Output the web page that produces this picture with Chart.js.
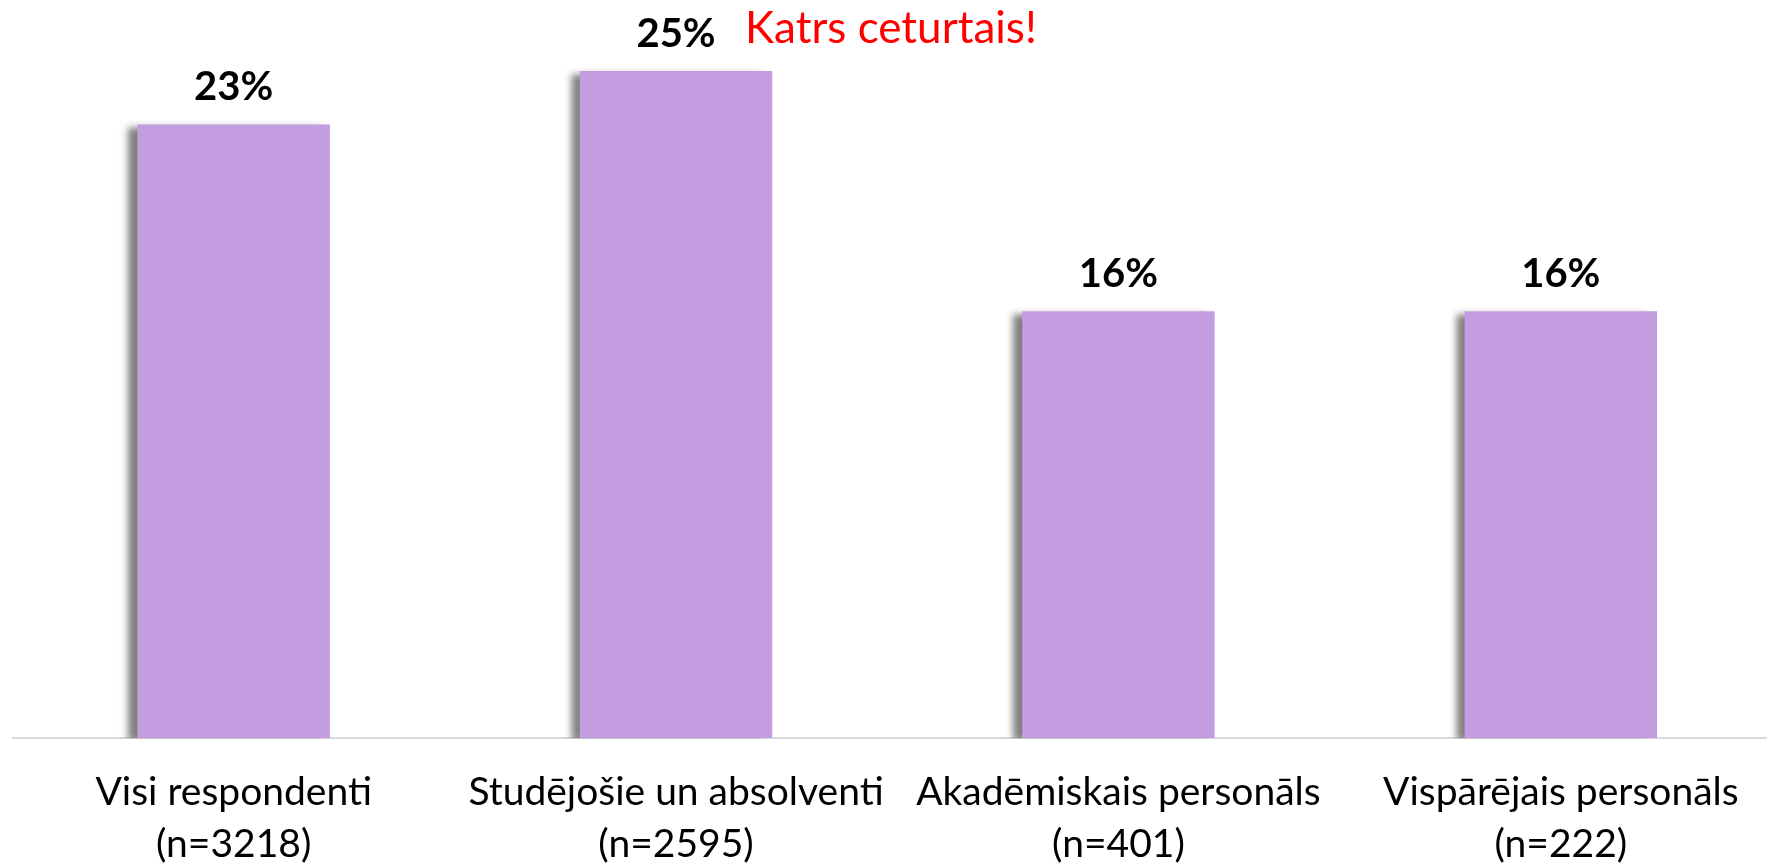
<!DOCTYPE html>
<html>
<head>
<meta charset="utf-8">
<script src="https://cdn.jsdelivr.net/npm/chart.js@4.4.1/dist/chart.umd.min.js"></script>
<style>
  html, body { margin: 0; padding: 0; background: #fff; overflow: hidden; }
  .chart-box { position: relative; width: 1782px; height: 898px; }
</style>
</head>
<body>
<div class="chart-box"><canvas id="bar_chart"></canvas></div>
<script>
const categories = [
  ["Visi respondenti", "(n=3218)"],
  ["Studējošie un absolventi", "(n=2595)"],
  ["Akadēmiskais personāls", "(n=401)"],
  ["Vispārējais personāls", "(n=222)"],
];
const shares = [23, 25, 16, 16];
const callout = "Katrs ceturtais!";

const barColor = "#c49ce0";

// soft grey shadow to the left of each bar
const barShadow = {
  id: "barShadow",
  beforeDatasetsDraw(chart) {
    const ctx = chart.ctx;
    ctx.save();
    ctx.shadowColor = "rgba(0,0,0,0.5)";
    ctx.shadowBlur = 7;
    ctx.shadowOffsetX = -9;
    ctx.shadowOffsetY = 3;
  },
  afterDatasetsDraw(chart) {
    chart.ctx.restore();
  },
};

const valueLabels = {
  id: "valueLabels",
  afterDatasetsDraw(chart) {
    const ctx = chart.ctx;
    const meta = chart.getDatasetMeta(0);
    ctx.save();
    ctx.textAlign = "center";
    ctx.textBaseline = "alphabetic";
    ctx.font = "bold 40px Lato";
    ctx.fillStyle = "#000";
    meta.data.forEach((bar, i) => {
      ctx.fillText(shares[i] + "%", bar.x, bar.y - 24);
    });
    const b = meta.data[1];
    ctx.textAlign = "left";
    ctx.font = "44px Lato";
    ctx.fillStyle = "#ff0000";
    ctx.fillText(callout, b.x + 69, b.y - 28);
    ctx.restore();
  },
};

const ctx = document.getElementById("bar_chart").getContext("2d");
new Chart(ctx, {
  type: "bar",
  data: {
    labels: categories,
    datasets: [
      {
        data: shares,
        backgroundColor: barColor,
        borderWidth: 0,
        barPercentage: 0.87,
        categoryPercentage: 0.5,
      },
    ],
  },
  options: {
    responsive: true,
    maintainAspectRatio: false,
    animation: false,
    layout: { padding: { left: 12.5, right: 0, top: 17.7, bottom: 0 } },
    plugins: {
      legend: { display: false },
      tooltip: { enabled: false },
    },
    scales: {
      x: {
        grid: { display: false, drawTicks: false },
        border: { display: true, color: "#d9d9d9", width: 2 },
        ticks: {
          color: "#000",
          padding: 28,
          font: { family: "Lato", size: 39, lineHeight: 1.33 },
        },
      },
      y: {
        display: false,
        min: 0,
        max: 27,
      },
    },
  },
  plugins: [barShadow, valueLabels],
});
</script>
</body>
</html>
